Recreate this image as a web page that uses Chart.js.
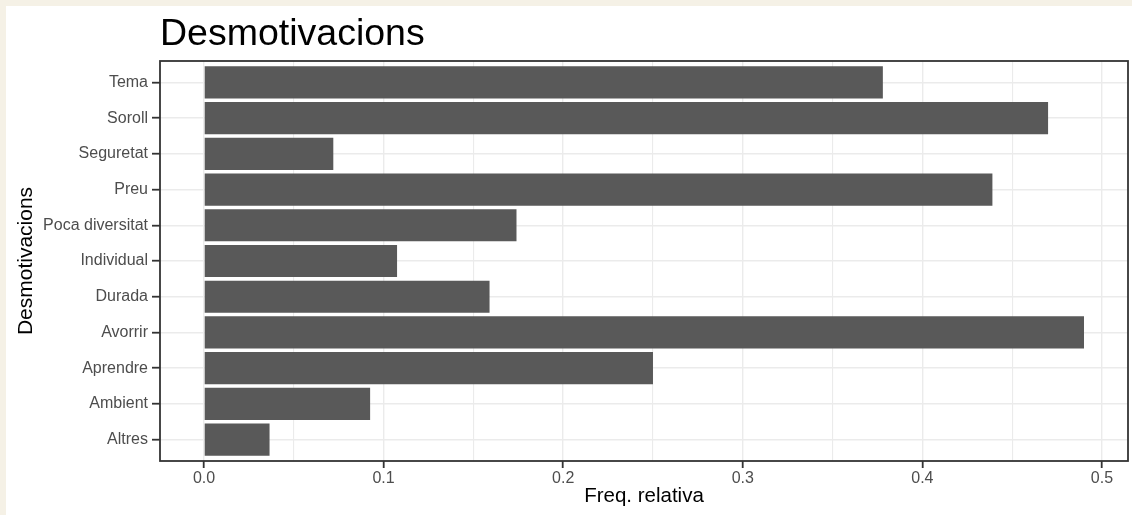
<!DOCTYPE html>
<html>
<head>
<meta charset="utf-8">
<script src="https://cdn.jsdelivr.net/npm/chart.js@4/dist/chart.umd.min.js"></script>
<style>
  html, body { margin: 0; padding: 0; background: #ffffff; }
  #wrap { width: 1132px; height: 515px; position: relative; }
  canvas { display: block; }
</style>
</head>
<body>
<div id="wrap"><canvas id="c" width="1132" height="515"></canvas></div>
<script>
const categories = ["Tema", "Soroll", "Seguretat", "Preu", "Poca diversitat", "Individual", "Durada", "Avorrir", "Aprendre", "Ambient", "Altres"];
const freqValues = [0.378, 0.470, 0.072, 0.439, 0.174, 0.1075, 0.159, 0.490, 0.250, 0.0925, 0.0365];
const xTickValues = [0, 0.05, 0.1, 0.15, 0.2, 0.25, 0.3, 0.35, 0.4, 0.45, 0.5];
const xTickLabels = ["0.0", "", "0.1", "", "0.2", "", "0.3", "", "0.4", "", "0.5"];

const FONT = "'Liberation Sans', Arial, Helvetica, sans-serif";

const bgPlugin = {
  id: 'bg',
  beforeDraw(chart) {
    const ctx = chart.ctx;
    ctx.save();
    ctx.fillStyle = '#ffffff';
    ctx.fillRect(0, 0, chart.width, chart.height);
    ctx.fillStyle = '#f5f1e6';
    ctx.fillRect(0, 0, chart.width, 6);
    ctx.fillRect(0, 0, 6, chart.height);
    ctx.restore();
  }
};
const borderPlugin = {
  id: 'panelBorder',
  afterDatasetsDraw(chart) {
    const a = chart.chartArea;
    const ctx = chart.ctx;
    ctx.save();
    ctx.strokeStyle = '#333333';
    ctx.lineWidth = 1.8;
    ctx.strokeRect(a.left, a.top, a.right - a.left, a.bottom - a.top);
    ctx.restore();
  }
};

new Chart(document.getElementById('c'), {
  type: 'bar',
  data: {
    datasets: [{
      data: freqValues.map((v, i) => ({ x: v, y: i })),
      backgroundColor: '#595959',
      borderWidth: 0,
      categoryPercentage: 1.0,
      barPercentage: 0.9
    }]
  },
  options: {
    indexAxis: 'y',
    responsive: false,
    animation: false,
    layout: { padding: { left: 0, right: 4, top: 0, bottom: 0 } },
    plugins: {
      legend: { display: false },
      tooltip: { enabled: false },
      title: {
        display: true,
        text: 'Desmotivacions',
        align: 'start',
        fullSize: false,
        color: '#000000',
        font: { family: FONT, size: 37.5, weight: 'normal' },
        padding: { top: 12, bottom: 4 }
      }
    },
    scales: {
      x: {
        type: 'linear',
        position: 'bottom',
        offset: false,
        min: -0.0245,
        max: 0.5145,
        afterBuildTicks(scale) { scale.ticks = xTickValues.map(v => ({ value: v })); },
        afterFit(scale) { scale.height = 54; },
        ticks: {
          autoSkip: false,
          maxRotation: 0,
          padding: 1,
          color: '#4d4d4d',
          font: { family: FONT, size: 16 },
          callback: (v, i) => xTickLabels[i]
        },
        grid: {
          offset: false,
          color: '#ebebeb',
          lineWidth: (ctx) => (ctx.index % 2 === 0 ? 1.4 : 1.1),
          tickColor: (ctx) => (ctx.index % 2 === 0 ? '#333333' : 'rgba(0,0,0,0)'),
          tickLength: 7,
          tickWidth: 1.8,
          drawTicks: true
        },
        border: { display: false },
        title: {
          display: true,
          text: 'Freq. relativa',
          color: '#000000',
          font: { family: FONT, size: 20.5 },
          padding: { top: 0, bottom: 6.7 }
        }
      },
      y: {
        type: 'linear',
        position: 'left',
        reverse: true,
        offset: false,
        min: -0.6,
        max: categories.length - 1 + 0.6,
        afterBuildTicks(scale) { scale.ticks = categories.map((c, i) => ({ value: i })); },
        afterFit(scale) { scale.width = 160; },
        ticks: {
          autoSkip: false,
          padding: 4,
          color: '#4d4d4d',
          font: { family: FONT, size: 16 },
          callback: (v) => categories[v]
        },
        grid: {
          offset: false,
          color: '#ebebeb',
          lineWidth: 1.4,
          tickColor: '#333333',
          tickLength: 8,
          tickWidth: 1.8,
          drawTicks: true
        },
        border: { display: false },
        title: {
          display: true,
          text: 'Desmotivacions',
          color: '#000000',
          font: { family: FONT, size: 21 },
          padding: { top: 13.5, bottom: 0 }
        }
      }
    }
  },
  plugins: [bgPlugin, borderPlugin]
});
</script>
</body>
</html>
